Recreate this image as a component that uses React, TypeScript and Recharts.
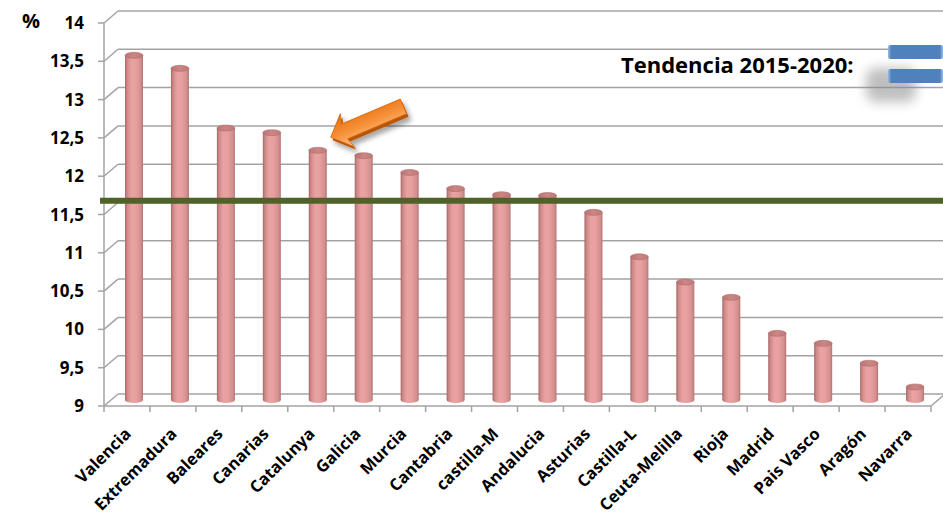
import React from 'react';
import { BarChart, Bar, XAxis, YAxis, ReferenceLine, ReferenceDot } from 'recharts';

const regions = ['Valencia', 'Extremadura', 'Baleares', 'Canarias', 'Catalunya', 'Galicia', 'Murcia', 'Cantabria', 'castilla-M', 'Andalucia', 'Asturias', 'Castilla-L', 'Ceuta-Melilla', 'Rioja', 'Madrid', 'Pais Vasco', 'Aragón', 'Navarra'];
const rates = [13.5, 13.33, 12.55, 12.49, 12.26, 12.19, 11.97, 11.76, 11.68, 11.67, 11.45, 10.87, 10.54, 10.34, 9.87, 9.74, 9.48, 9.17];
const yTicks = [9, 9.5, 10, 10.5, 11, 11.5, 12, 12.5, 13, 13.5, 14];
const referenceLevel = 11.68;
const highlighted = 'Catalunya';
const titleText = 'Tendencia 2015-2020:';
const unitLabel = '%';

const data = regions.map((r, i) => ({ region: r, value: rates[i] }));

const DX = 14;
const DY = 12;
const FONT = '"Open Sans", Lato, sans-serif';
const GRID = '#a3a3a3';

const BackGrid = (props: any) => {
  const { x1, y1, x2, base } = props;
  return (
    <g>
      <line x1={x1} y1={y1} x2={x1 + DX} y2={y1 - DY} stroke={GRID} strokeWidth={1.5} />
      <line x1={x1 + DX} y1={y1 - DY} x2={x2 + DX + 4} y2={y1 - DY} stroke={GRID} strokeWidth={1.5} />
      {base ? <line x1={x2} y1={y1} x2={x2 + DX} y2={y1 - DY} stroke={GRID} strokeWidth={1.5} /> : null}
    </g>
  );
};

const Cylinder = (props: any) => {
  const { x, y, width, height } = props;
  if (height == null || width == null) return null;
  const cx = x + width / 2 + DX / 2;
  const top = y - DY / 2;
  const bottom = y + height - DY / 2;
  const rx = width / 2;
  const ry = 3;
  return (
    <g>
      <rect x={cx - rx} y={top} width={width} height={Math.max(0, bottom - top)} fill="url(#cylBody)" />
      <ellipse cx={cx} cy={bottom} rx={rx} ry={ry} fill="url(#cylBody)" />
      <ellipse cx={cx} cy={top} rx={rx} ry={ry} fill="url(#cylTop)" stroke="#b06d6b" strokeWidth={0.6} />
    </g>
  );
};

const XTick = (props: any) => {
  const { x, y, payload } = props;
  const off = payload && payload.offset != null ? payload.offset : 23;
  const last = payload.value === regions[regions.length - 1];
  return (
    <g>
      <line x1={x - off} x2={x - off} y1={y} y2={y + 6} stroke={GRID} strokeWidth={1.5} />
      {last ? <line x1={x + off} x2={x + off} y1={y} y2={y + 6} stroke={GRID} strokeWidth={1.5} /> : null}
      <text
        transform={`translate(${x + 5},${y + 29}) rotate(-45)`}
        textAnchor="end"
        fontFamily={FONT}
        fontWeight={700}
        fontSize={16.5}
        fill="#000"
      >
        {payload.value}
      </text>
    </g>
  );
};

const ArrowShape = (props: any) => {
  const { cx, cy } = props;
  if (cx == null || cy == null) return null;
  const tx = cx + 20;
  const ty = cy - 19;
  const pts = '0,0 -18,-18 -15,-8 -79,-8 -79,8 -15,8 -18,18';
  return (
    <g filter="url(#arrowShadow)">
      <g transform={`translate(${tx + 2},${ty + 3}) rotate(157)`}>
        <polygon points={pts} fill="#b85507" />
      </g>
      <g transform={`translate(${tx},${ty}) rotate(157)`}>
        <polygon points={pts} fill="url(#arrowFill)" stroke="#d96a0c" strokeWidth={0.8} />
      </g>
    </g>
  );
};

export default function App() {
  return (
    <div style={{ position: 'absolute', left: 0, top: 0, width: 943, height: 518, background: '#fff' }}>
      <svg width={0} height={0} style={{ position: 'absolute' }}>
        <defs>
          <linearGradient id="cylBody" x1="0" y1="0" x2="1" y2="0">
            <stop offset="0" stopColor="#a86564" />
            <stop offset="0.12" stopColor="#cd8988" />
            <stop offset="0.35" stopColor="#e9a2a2" />
            <stop offset="0.6" stopColor="#e8a09f" />
            <stop offset="0.88" stopColor="#d28f8e" />
            <stop offset="1" stopColor="#b07473" />
          </linearGradient>
          <linearGradient id="cylTop" x1="0" y1="0" x2="1" y2="0">
            <stop offset="0" stopColor="#b87574" />
            <stop offset="0.5" stopColor="#cc8684" />
            <stop offset="1" stopColor="#bd7a78" />
          </linearGradient>
          <linearGradient id="arrowFill" x1="0" y1="0" x2="0" y2="1">
            <stop offset="0" stopColor="#fcc58f" />
            <stop offset="0.45" stopColor="#f7923a" />
            <stop offset="1" stopColor="#e46c0a" />
          </linearGradient>
          <filter id="arrowShadow" x="-30%" y="-30%" width="160%" height="160%">
            <feDropShadow dx="3" dy="4" stdDeviation="2.5" floodColor="#000" floodOpacity="0.35" />
          </filter>
          <filter id="iconShadow" x="-50%" y="-50%" width="200%" height="200%">
            <feGaussianBlur stdDeviation="6" />
          </filter>
          <linearGradient id="iconFill" x1="0" y1="0" x2="1" y2="0">
            <stop offset="0" stopColor="#9bbbe3" />
            <stop offset="0.06" stopColor="#4f81bd" />
            <stop offset="0.94" stopColor="#4f81bd" />
            <stop offset="1" stopColor="#9bbbe3" />
          </linearGradient>
        </defs>
      </svg>
      <BarChart
        width={943}
        height={518}
        data={data}
        margin={{ top: 23, right: 12, bottom: 12, left: 44 }}
        barSize={18}
      >
        {yTicks.map((v) => (
          <ReferenceLine
            key={'g' + v}
            y={v}
            zIndex={-100}
            shape={(p: any) => <BackGrid {...p} base={v === yTicks[0]} />}
          />
        ))}
        <XAxis
          dataKey="region"
          type="category"
          interval={0}
          height={100}
          tickSize={0}
          tickMargin={0}
          tickLine={false}
          axisLine={{ stroke: GRID, strokeWidth: 1.5 }}
          tick={<XTick />}
        />
        <YAxis
          type="number"
          domain={[9, 14]}
          ticks={yTicks}
          interval={0}
          allowDataOverflow
          width={60}
          tickSize={6}
          tickMargin={14}
          tickFormatter={(v: number) => String(v).replace('.', ',')}
          tick={{ fill: '#000', fontSize: 17, fontWeight: 700, fontFamily: FONT }}
          axisLine={{ stroke: GRID, strokeWidth: 1.5 }}
          tickLine={{ stroke: GRID, strokeWidth: 1.5 }}
        />
        <Bar dataKey="value" isAnimationActive={false} shape={<Cylinder />} />
        <ReferenceLine
          y={referenceLevel}
          zIndex={700}
          shape={(p: any) => (
            <line x1={p.x1 - 4} y1={p.y1} x2={p.x2 + DX + 4} y2={p.y1} stroke="#4f6228" strokeWidth={6} />
          )}
        />
        <ReferenceDot
          x={highlighted}
          y={rates[regions.indexOf(highlighted)]}
          zIndex={800}
          shape={<ArrowShape />}
        />
      </BarChart>
      <svg width={943} height={518} style={{ position: 'absolute', left: 0, top: 0, pointerEvents: 'none' }}>
        <text x={22} y={28} fontFamily={FONT} fontWeight={700} fontSize={20} fill="#000">{unitLabel}</text>
        <text x={621} y={73} fontFamily={FONT} fontWeight={700} fontSize={22} fill="#000">{titleText}</text>
        <rect x={866} y={68} width={50} height={34} rx={10} fill="#8a8a8a" opacity={0.55} filter="url(#iconShadow)" />
        <rect x={888} y={45} width={55} height={14} rx={2} fill="url(#iconFill)" />
        <rect x={888} y={69} width={55} height={14} rx={2} fill="url(#iconFill)" />
      </svg>
    </div>
  );
}
